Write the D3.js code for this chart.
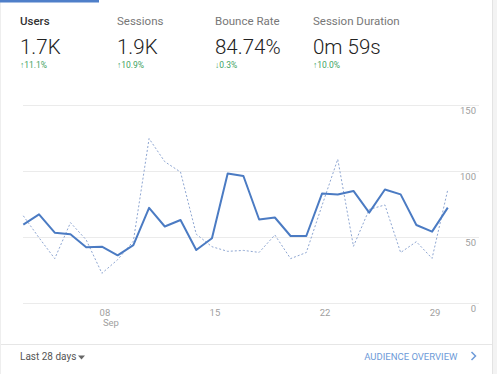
<!DOCTYPE html>
<html>
<head>
<meta charset="utf-8">
<script src="https://cdn.jsdelivr.net/npm/d3@7"></script>
<style>
  body { margin: 0; background: #fff; font-family: Roboto, "Noto Sans", sans-serif; }
  svg { display: block; }
</style>
</head>
<body>
<div id="chart"></div>
<script>
// Metric tabs across the top
const metricNames = ["Users", "Sessions", "Bounce Rate", "Session Duration"];
const metricValues = ["1.7K", "1.9K", "84.74%", "0m 59s"];
const metricChanges = ["\u219111.1%", "\u219110.9%", "\u21930.3%", "\u219110.0%"];

// Daily users, Sep 3 - Sep 30 (current period and previous period)
const days = d3.range(3, 31);
const usersCurrent = [59.5, 67.3, 53.4, 52.2, 42.4, 42.8, 36.3, 44, 72.2, 58.1, 63, 40.3, 49.2, 98.2,
                      96.3, 63.4, 64.9, 50.9, 50.9, 83, 82.3, 85, 68.6, 86.1, 82.4, 59.2, 54.2, 72.4];
const usersPrevious = [66.2, 49.6, 33.8, 61, 48, 22.7, 33, 47, 124.6, 107.1, 99.3, 52.3, 42.8, 39.3,
                       40, 38.5, 51.7, 33.8, 38.4, 74, 109, 43.1, 71, 74.4, 38.4, 46.6, 34, 86];

const xTicks = [8, 15, 22, 29];
const yTicks = [0, 50, 100, 150];

const W = 497, H = 374;
const svg = d3.select("#chart").append("svg")
    .attr("width", W)
    .attr("height", H);

// card background / borders
svg.append("rect").attr("x", 493).attr("y", 0).attr("width", 4).attr("height", H).attr("fill", "#f3f3f3");
svg.append("line").attr("x1", 492.5).attr("x2", 492.5).attr("y1", 0).attr("y2", H).attr("stroke", "#e3e3e3");
svg.append("line").attr("x1", 0.5).attr("x2", 0.5).attr("y1", 0).attr("y2", H).attr("stroke", "#eeeeee");
svg.append("rect").attr("x", 0).attr("y", 0).attr("width", 99).attr("height", 2.5).attr("fill", "#4f7fc9");

// header tabs
const tabX = [20, 117, 215, 313];
const tabs = svg.selectAll(".tab")
    .data(metricNames)
    .join("g")
      .attr("class", "tab")
      .attr("transform", (d, i) => `translate(${tabX[i]},0)`);

tabs.append("text")
    .attr("y", 25)
    .attr("font-size", 11.5)
    .attr("font-weight", (d, i) => i === 0 ? 500 : 400)
    .attr("fill", (d, i) => i === 0 ? "#333" : "#777")
    .text(d => d);

tabs.append("text")
    .attr("y", 53.5)
    .attr("font-size", 20.5)
    .attr("font-weight", 300)
    .attr("fill", "#222")
    .text((d, i) => metricValues[i]);

tabs.append("text")
    .attr("y", 67.5)
    .attr("font-size", 8.5)
    .attr("fill", "#3ea35f")
    .text((d, i) => metricChanges[i]);

// chart area
const x = d3.scaleLinear()
    .domain([3, 30])
    .range([23.3, 447.8]);

const y = d3.scaleLinear()
    .domain([0, 150])
    .range([303.3, 105]);

// gridlines
svg.append("g")
    .selectAll("line")
    .data(yTicks)
    .join("line")
      .attr("x1", 23)
      .attr("x2", 479)
      .attr("y1", d => Math.round(y(d)) + 0.5)
      .attr("y2", d => Math.round(y(d)) + 0.5)
      .attr("stroke", "#ebebeb");

// y labels (right side, below gridline)
svg.append("g")
    .selectAll("text")
    .data(yTicks)
    .join("text")
      .attr("x", 476)
      .attr("y", d => y(d) + 9)
      .attr("text-anchor", "end")
      .attr("font-size", 9.5)
      .attr("fill", "#a0a0a0")
      .text(d => d);

// x labels
const xl = svg.append("g")
    .selectAll("text")
    .data(xTicks)
    .join("text")
      .attr("x", d => x(d) + 3)
      .attr("y", 316)
      .attr("text-anchor", "middle")
      .attr("font-size", 9.5)
      .attr("fill", "#a0a0a0")
      .text(d => d3.format("02")(d));

svg.append("text")
    .attr("x", x(8) + 1)
    .attr("y", 326)
    .attr("font-size", 9.5)
    .attr("fill", "#a0a0a0")
    .text("Sep");

const line = d3.line()
    .x((d, i) => x(days[i]))
    .y(d => y(d));

svg.append("path")
    .datum(usersPrevious)
    .attr("fill", "none")
    .attr("stroke", "#8ea6d2")
    .attr("stroke-width", 1)
    .attr("stroke-dasharray", "2,2")
    .attr("d", line);

svg.append("path")
    .datum(usersCurrent)
    .attr("fill", "none")
    .attr("stroke", "#4b7bc3")
    .attr("stroke-width", 2)
    .attr("stroke-linejoin", "round")
    .attr("d", line);

// footer
svg.append("line")
    .attr("x1", 1).attr("x2", 492)
    .attr("y1", 344.5).attr("y2", 344.5)
    .attr("stroke", "#e6e6e6");

svg.append("text")
    .attr("x", 20)
    .attr("y", 360)
    .attr("font-size", 10)
    .attr("fill", "#555")
    .text("Last 28 days");

svg.append("path")
    .attr("d", "M78,355.5 L85,355.5 L81.5,359.5 Z")
    .attr("fill", "#666");

svg.append("text")
    .attr("x", 457.5)
    .attr("y", 360)
    .attr("text-anchor", "end")
    .attr("font-size", 9.5)
    .attr("fill", "#6d9ad8")
    .text("AUDIENCE OVERVIEW");

svg.append("path")
    .attr("d", "M471.5,352 L475.5,356 L471.5,360")
    .attr("fill", "none")
    .attr("stroke", "#6d9ad8")
    .attr("stroke-width", 1.5);
</script>
</body>
</html>
